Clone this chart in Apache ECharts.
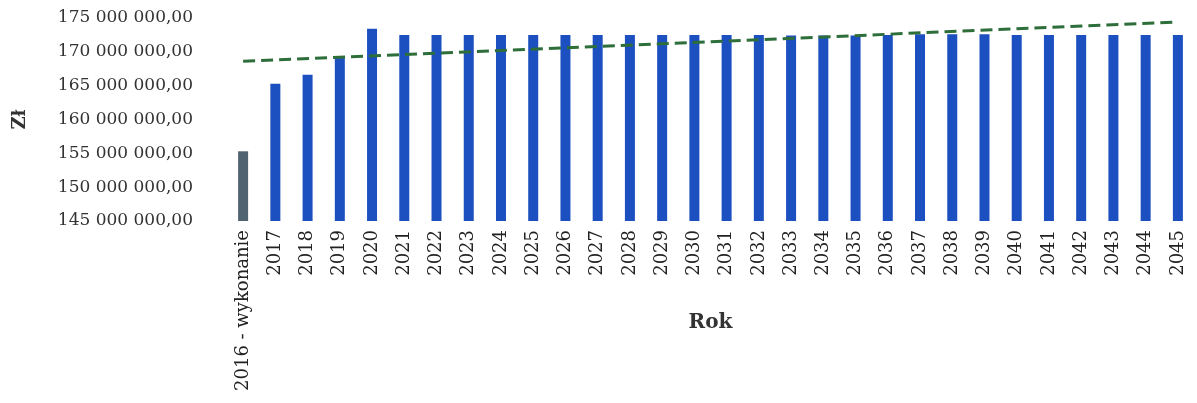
<!DOCTYPE html>
<html>
<head>
<meta charset="utf-8">
<script src="https://cdn.jsdelivr.net/npm/echarts@6/dist/echarts.min.js"></script>
<style>
html, body { margin: 0; padding: 0; background: #fff; }
#main { width: 1197px; height: 403px; }
</style>
</head>
<body>
<div id="main"></div>
<script>
var years = ['2016 - wykonanie', '2017', '2018', '2019', '2020', '2021', '2022', '2023', '2024', '2025',
	'2026', '2027', '2028', '2029', '2030', '2031', '2032', '2033', '2034', '2035',
	'2036', '2037', '2038', '2039', '2040', '2041', '2042', '2043', '2044', '2045'];
var dochody = [155300000, 165300000, 166600000, 169400000, 173400000, 172500000, 172500000, 172500000, 172500000, 172500000,
	172500000, 172500000, 172500000, 172500000, 172500000, 172500000, 172500000, 172400000, 172400000, 172400000,
	172500000, 172600000, 172600000, 172600000, 172500000, 172500000, 172500000, 172500000, 172500000, 172500000];
// linia trendu - odczyt poczatku i konca
var trendKoniec = [168600000, 174400000];

function fmt(v) {
	var s = Math.round(v).toString();
	return s.replace(/\B(?=(\d{3})+(?!\d))/g, ' ') + ',00';
}

var barData = [];
for (var i = 0; i < dochody.length; i++) {
	barData.push({
		value : dochody[i],
		itemStyle : { color : i == 0 ? '#4f6470' : '#1c4fbf' }
	});
}
var trendData = [];
for (var i = 0; i < years.length; i++) {
	trendData.push(null);
}
trendData[0] = trendKoniec[0];
trendData[years.length - 1] = trendKoniec[1];

var myChart = echarts.init(document.getElementById('main'));
var option = {
	animation : false,
	grid : {
		left : 227,
		right : 3,
		top : 18,
		bottom : 182,
		outerBoundsMode : 'none',
		containLabel : false
	},
	xAxis : {
		type : 'category',
		data : years,
		name : 'Rok',
		nameLocation : 'middle',
		nameGap : 92,
		nameMoveOverlap : false,
		nameTextStyle : {
			fontFamily : 'DejaVu Serif',
			fontWeight : 'bold',
			fontSize : 20,
			color : '#333'
		},
		axisLine : { show : false },
		axisTick : { show : false },
		axisLabel : {
			rotate : 90,
			interval : 0,
			margin : 9,
			fontFamily : 'DejaVu Serif',
			fontSize : 18,
			color : '#222'
		}
	},
	yAxis : {
		type : 'value',
		min : 145000000,
		max : 175000000,
		interval : 5000000,
		name : 'Zł',
		nameLocation : 'middle',
		nameGap : 198,
		nameRotate : 90,
		nameMoveOverlap : false,
		nameTextStyle : {
			fontFamily : 'DejaVu Serif',
			fontWeight : 'bold',
			fontSize : 18,
			color : '#333'
		},
		splitLine : { show : false },
		axisLine : { show : false },
		axisTick : { show : false },
		axisLabel : {
			margin : 34,
			fontFamily : 'DejaVu Serif',
			fontSize : 17,
			color : '#333',
			formatter : fmt
		}
	},
	series : [ {
		type : 'bar',
		data : barData,
		barWidth : 10
	}, {
		type : 'line',
		data : trendData,
		connectNulls : true,
		showSymbol : false,
		symbol : 'none',
		lineStyle : {
			color : '#2d6e3a',
			width : 3,
			type : [12, 6]
		}
	} ]
};
myChart.setOption(option);
</script>
</body>
</html>
